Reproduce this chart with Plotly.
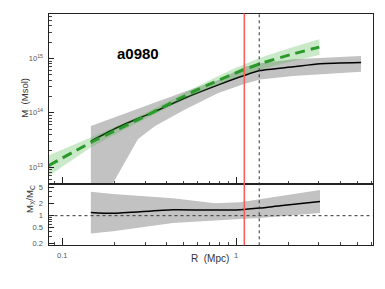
import numpy as np
import plotly.graph_objects as go

# ---------------- data ----------------
cluster_name = "a0980"

# caustic mass profile (black line), log10(M / Msol)
r_caustic = [0.146, 0.209, 0.327, 0.509, 0.791, 1.112, 1.375, 2.129, 3.045, 5.245]
logm_caustic = [13.478, 13.733, 14.00, 14.273, 14.515, 14.687, 14.778, 14.847, 14.905, 14.927]

# caustic uncertainty band
r_caustic_hi = [0.146, 0.287, 0.509, 0.791, 1.112, 1.375, 2.129, 5.245]
logm_caustic_hi = [13.756, 14.102, 14.393, 14.605, 14.842, 14.915, 14.987, 15.047]
r_caustic_lo = [0.146, 0.1966, 0.273, 0.342, 0.509, 0.791, 1.112, 1.375, 2.129, 5.245]
logm_caustic_lo = [11.987, 12.678, 13.515, 13.756, 14.06, 14.364, 14.533, 14.615, 14.678, 14.756]

# X-ray mass profile (green dashed line) and band
r_xray = [0.0833, 0.1457, 0.2092, 0.2865, 0.3902, 0.5086, 0.690, 0.948, 1.112, 1.375, 2.046, 3.017]
logm_xray = [13.024, 13.451, 13.696, 13.905, 14.124, 14.315, 14.515, 14.705, 14.796, 14.905, 15.069, 15.211]
logm_xray_err = [0.19, 0.091, 0.064, 0.055, 0.055, 0.064, 0.073, 0.091, 0.10, 0.109, 0.127, 0.145]

# mass ratio M_X / M_C (lower panel)
r_ratio = [0.146, 0.1958, 0.4338, 0.757, 1.054, 1.375, 1.79, 3.045]
ratio = [1.21, 1.15, 1.41, 1.38, 1.41, 1.55, 1.77, 2.27]
ratio_lo = [0.36, 0.41, 0.66, 0.77, 0.83, 0.87, 0.95, 1.17]
ratio_hi = [4.0, 3.49, 2.74, 2.06, 2.18, 2.6, 3.2, 4.38]

r_red = 1.116      # red vertical line (Mpc)
r_dashed = 1.36    # black dashed vertical line (Mpc)
ratio_ref = 1.0

x_ticks = [0.1, 1]
x_ticklabels = ["0.1", "1"]
y_ticks = [1e13, 1e14, 1e15]
y_ticklabels = ["10<sup>13</sup>", "10<sup>14</sup>", "10<sup>15</sup>"]
y2_ticks = [0.2, 0.5, 1, 2, 5]
y2_ticklabels = ["0.2", "0.5", "1", "2", "5"]

# ---------------- figure ----------------
W, H = 385, 289
xl, xr = 48.5 / W, 372.7 / W
y_top = 1 - 12.7 / H
y_mid = 1 - 186 / H
y_bot = 1 - 247.7 / H

m = lambda a: [10 ** v for v in a]

grey = "#c2c2c2"
fig = go.Figure()

# caustic band
fig.add_trace(go.Scatter(
    x=r_caustic_hi + r_caustic_lo[::-1],
    y=m(logm_caustic_hi) + m(logm_caustic_lo[::-1]),
    fill="toself", fillcolor=grey, line=dict(width=0), mode="lines",
    hoverinfo="skip", showlegend=False, xaxis="x", yaxis="y"))
# caustic line
fig.add_trace(go.Scatter(
    x=r_caustic, y=m(logm_caustic), mode="lines",
    line=dict(color="black", width=1.5, shape="spline", smoothing=0.6),
    showlegend=False, xaxis="x", yaxis="y"))
# x-ray band
xr_hi = [a + e for a, e in zip(logm_xray, logm_xray_err)]
xr_lo = [a - e for a, e in zip(logm_xray, logm_xray_err)]
fig.add_trace(go.Scatter(
    x=r_xray + r_xray[::-1], y=m(xr_hi) + m(xr_lo[::-1]),
    fill="toself", fillcolor="rgba(60,175,60,0.28)", line=dict(width=0),
    mode="lines", hoverinfo="skip", showlegend=False, xaxis="x", yaxis="y"))
# x-ray line
fig.add_trace(go.Scatter(
    x=r_xray, y=m(logm_xray), mode="lines",
    line=dict(color="#2a9a2a", width=3, dash="10px,6px", shape="spline", smoothing=0.6),
    showlegend=False, xaxis="x", yaxis="y"))

# ratio band and line
fig.add_trace(go.Scatter(
    x=r_ratio + r_ratio[::-1], y=ratio_hi + ratio_lo[::-1],
    fill="toself", fillcolor=grey, line=dict(width=0), mode="lines",
    hoverinfo="skip", showlegend=False, xaxis="x2", yaxis="y2"))
fig.add_trace(go.Scatter(
    x=r_ratio, y=ratio, mode="lines",
    line=dict(color="black", width=1.5, shape="spline", smoothing=0.6),
    showlegend=False, xaxis="x2", yaxis="y2"))

# reference lines (data coordinates)
shapes = [
    dict(type="line", xref="paper", yref="y2", x0=xl, x1=xr,
         y0=ratio_ref, y1=ratio_ref,
         line=dict(color="#333", width=1, dash="3px,3px")),
    dict(type="line", xref="x", yref="paper", x0=r_dashed, x1=r_dashed,
         y0=y_bot, y1=y_top, line=dict(color="#333", width=1, dash="3px,3px")),
    dict(type="line", xref="x", yref="paper", x0=r_red, x1=r_red,
         y0=y_bot, y1=y_top, line=dict(color="#ff5a5a", width=1.5)),
]

font_name = "Liberation Sans, Arial, sans-serif"
tickfont = dict(family=font_name, size=7.5, color="#555")

def minor_list(lo, hi):
    out = []
    for d in range(lo, hi + 1):
        for k in range(2, 10):
            out.append(k * 10 ** d)
    return out

xrange_ = [np.log10(0.0833), np.log10(6.12)]
common_x = dict(type="log", range=xrange_, domain=[xl, xr], showline=True, mirror=True,
                linecolor="#222", linewidth=1, showgrid=False, zeroline=False,
                ticks="inside", ticklen=7, tickcolor="#222", tickwidth=1,
                tickmode="array", tickvals=x_ticks,
                minor=dict(ticks="inside", ticklen=3, tickcolor="#444", tickmode="array",
                           tickvals=minor_list(-2, 0), showgrid=False))

fig.update_layout(
    width=W, height=H, margin=dict(l=0, r=0, t=0, b=0),
    paper_bgcolor="white", plot_bgcolor="white", showlegend=False,
    shapes=shapes,
    xaxis=dict(common_x, anchor="y", showticklabels=False),
    xaxis2=dict(common_x, anchor="y2", matches="x", ticktext=x_ticklabels,
                showticklabels=True, tickfont=tickfont, ticklabelstandoff=3),
    yaxis=dict(type="log", range=[12.68, 15.83], domain=[y_mid, y_top], anchor="x",
               showline=True, mirror=True, linecolor="#222", linewidth=1,
               showgrid=False, zeroline=False, ticks="inside", ticklen=5,
               tickcolor="#222", tickwidth=1, tickmode="array", tickvals=y_ticks,
               ticktext=y_ticklabels, tickfont=tickfont, ticklabelstandoff=3,
               minor=dict(ticks="inside", ticklen=3, tickcolor="#444", tickmode="array",
                          tickvals=minor_list(12, 15), showgrid=False)),
    yaxis2=dict(type="log", range=[-0.741, 0.783], domain=[y_bot, y_mid], anchor="x2",
                showline=True, mirror=True, linecolor="#222", linewidth=1,
                showgrid=False, zeroline=False, ticks="inside", ticklen=5,
                tickcolor="#222", tickwidth=1, tickmode="array", tickvals=y2_ticks,
                ticktext=y2_ticklabels, tickfont=tickfont, ticklabelstandoff=3,
                minor=dict(ticks="inside", ticklen=3, tickcolor="#444", tickmode="array",
                           tickvals=[0.3, 0.4, 0.6, 0.7, 0.8, 0.9, 3, 4], showgrid=False)),
    annotations=[
        dict(text="<b>" + cluster_name + "</b>", xref="paper", yref="paper",
             x=114.5 / W, y=1 - 43 / H, showarrow=False,
             font=dict(family=font_name, size=15, color="black")),
        dict(text="M\u00a0 (Msol)", xref="paper", yref="paper", x=17 / W, y=1 - 98.5 / H,
             textangle=-90, showarrow=False, font=dict(family=font_name, size=9.5, color="#333")),
        dict(text="M<sub>X</sub>/M<sub>C</sub>", xref="paper", yref="paper",
             x=22 / W, y=1 - 217 / H, textangle=-90, showarrow=False,
             font=dict(family=font_name, size=9.5, color="#333")),
        dict(text="R\u00a0 (Mpc)", xref="paper", yref="paper", x=210 / W, y=1 - 269 / H,
             showarrow=False, font=dict(family=font_name, size=10, color="#333")),
    ],
)

fig.write_html("out.html", config={"displayModeBar": False},
               post_script="document.body.style.margin='0';document.body.style.overflow='hidden';")
